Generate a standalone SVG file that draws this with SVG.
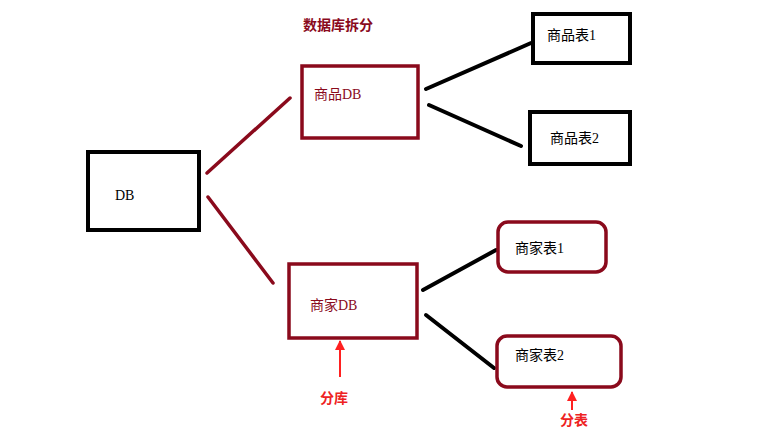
<svg xmlns="http://www.w3.org/2000/svg" width="780" height="437" viewBox="0 0 780 437">
<defs>
<style>
.t{font-family:"Liberation Serif","Noto Sans CJK SC",serif;font-size:14px;fill:#000}
.tr{font-family:"Liberation Serif","Noto Sans CJK SC",serif;font-size:14px;fill:#8a0a1c}
.lb{font-family:"Liberation Sans","Noto Sans CJK SC",sans-serif;font-size:14px;font-weight:bold;fill:#ee2222}
.bk{fill:#fff;stroke:#000;stroke-width:4}
.rd{fill:#fff;stroke:#8a0a1c;stroke-width:3.5}
.lr{stroke:#8a0a1c;stroke-width:3.5;stroke-linecap:round}
.lk{stroke:#000;stroke-width:4;stroke-linecap:round}
.ar{stroke:#ff2020;stroke-width:2}
</style>
<marker id="ah" viewBox="0 0 10 10" refX="9" refY="5" markerWidth="5" markerHeight="5" orient="auto">
<path d="M0,0 L10,5 L0,10 z" fill="#ff2020"/>
</marker>
</defs>
<rect width="780" height="437" fill="#fff"/>
<text class="tr" x="303" y="30" font-weight="bold" font-size="15">数据库拆分</text>
<g id="connectors">
<line class="lr" x1="207" y1="173" x2="290" y2="98"/>
<line class="lr" x1="208" y1="197" x2="273" y2="283"/>
<line class="lk" x1="426" y1="89" x2="531" y2="43"/>
<line class="lk" x1="429" y1="105" x2="521" y2="146"/>
<line class="lk" x1="423" y1="290" x2="496" y2="250"/>
<line class="lk" x1="426" y1="315" x2="494" y2="368"/>
<line class="ar" x1="340" y1="377" x2="340" y2="341" marker-end="url(#ah)"/>
<line class="ar" x1="572" y1="410" x2="572" y2="392" marker-end="url(#ah)"/>
</g>
<g id="db"><rect class="bk" x="88" y="152" width="111" height="78"/><text class="t" x="115" y="200" font-size="13">DB</text></g>
<g id="spdb"><rect class="rd" x="302" y="66" width="116" height="72"/><text class="tr" x="314" y="99">商品DB</text></g>
<g id="sjdb"><rect class="rd" x="289" y="264" width="128" height="74"/><text class="tr" x="310" y="310">商家DB</text></g>
<g id="spb1"><rect class="bk" x="533" y="14" width="97" height="49"/><text class="t" x="547" y="40">商品表1</text></g>
<g id="spb2"><rect class="bk" x="530" y="112" width="100" height="52"/><text class="t" x="550" y="143">商品表2</text></g>
<g id="sjb1"><rect class="rd" x="498" y="222" width="108" height="50" rx="10"/><text class="t" x="515" y="253">商家表1</text></g>
<g id="sjb2"><rect class="rd" x="497" y="336" width="124" height="51" rx="10"/><text class="t" x="515" y="360">商家表2</text></g>
<text class="lb" x="320" y="403">分库</text>
<text class="lb" x="560" y="425">分表</text>
</svg>
